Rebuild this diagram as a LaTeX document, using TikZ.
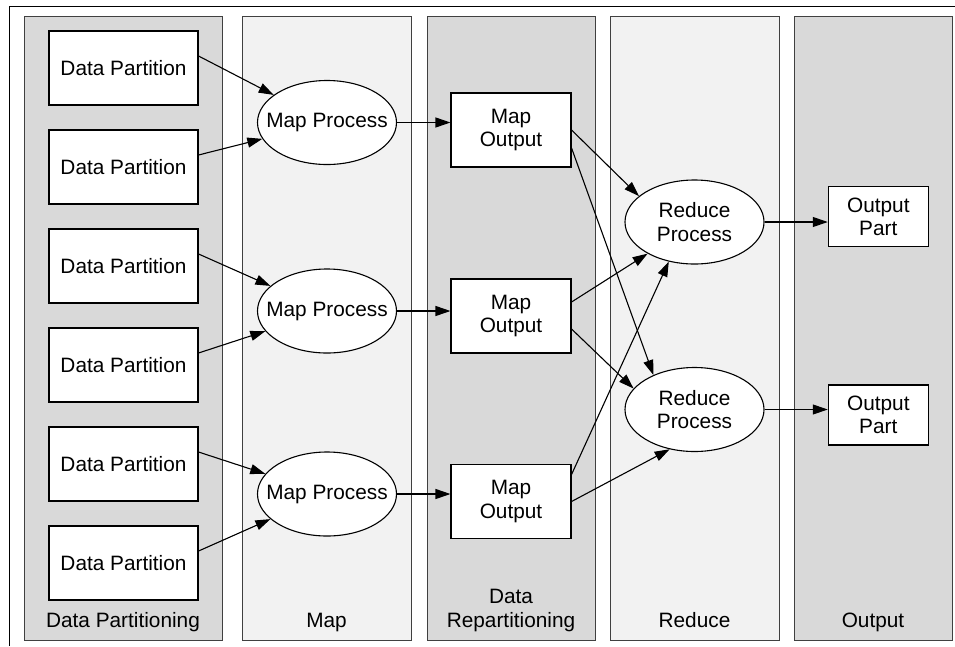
\documentclass[tikz,border=0pt]{standalone}
\usepackage{fontspec}
\setmainfont{Liberation Sans}
\usetikzlibrary{shapes.geometric,positioning,arrows.meta}

\begin{document}
\begin{tikzpicture}[x=1pt,y=-1pt,line width=1.1pt,node distance=99pt,
    >={Triangle[length=15pt,width=10pt]},
    every node/.style={font=\fontsize{20.8}{23.5}\selectfont},
    part/.style={draw,fill=white,minimum width=149pt,minimum height=74pt,inner sep=0pt,align=center},
    mout/.style={part,minimum width=120pt},
    opart/.style={part,minimum width=100pt,minimum height=60pt},
    proc/.style={ellipse,draw,fill=white,minimum width=139pt,minimum height=84pt,inner xsep=-12pt,inner ysep=0pt,align=center},
    lane/.style={draw=black!75,line width=1pt},
    lanelabel/.style={anchor=south,inner sep=0pt,text depth=0pt,align=center}]
  \useasboundingbox (0,0) rectangle (955,646);
  \draw[line width=1pt] (9,646) -- (9,6) -- (955,6);
  % lanes
  \draw[lane,fill=gray!30] (24,16) rectangle (222,640);
  \draw[lane,fill=gray!10] (242,16) rectangle (411,640);
  \draw[lane,fill=gray!30] (427,16) rectangle (595,640);
  \draw[lane,fill=gray!10] (610,16) rectangle (779,640);
  \draw[lane,fill=gray!30] (794,16) rectangle (952,640);
  \node (lblpart) [lanelabel] at (123,628) {Data Partitioning};
  \node (lblmap) [lanelabel] at (326.5,628) {Map};
  \node (lblrepart) [lanelabel] at (511,628) {Data\\Repartitioning};
  \node (lblred) [lanelabel] at (694.5,628) {Reduce};
  \node (lblout) [lanelabel] at (873,628) {Output};
  % input partitions
  \node (dp1) [part] at (123.5,68) {Data Partition};
  \node (dp2) [part,below of=dp1] {Data Partition};
  \node (dp3) [part,below of=dp2] {Data Partition};
  \node (dp4) [part,below of=dp3] {Data Partition};
  \node (dp5) [part,below of=dp4] {Data Partition};
  \node (dp6) [part,below of=dp5] {Data Partition};
  % map stage
  \node (mp1) [proc] at (327,122.5) {Map Process};
  \node (mp2) [proc] at (327,311) {Map Process};
  \node (mp3) [proc] at (327,494) {Map Process};
  \node (mo1) [mout] at (511,130) {Map\\Output};
  \node (mo2) [mout] at (511,316) {Map\\Output};
  \node (mo3) [mout] at (511,501.5) {Map\\Output};
  % reduce stage
  \node (rp1) [proc] at (694.5,222) {Reduce\\Process};
  \node (rp2) [proc] at (694.5,409.5) {Reduce\\Process};
  \node (op1) [opart] at (878.3,216.7) {Output\\Part};
  \node (op2) [opart] at (878.3,415) {Output\\Part};
  \foreach \d/\m in {dp1/mp1,dp2/mp1,dp3/mp2,dp4/mp2,dp5/mp3,dp6/mp3}
    \draw[->] ([yshift=12pt]\d.east) -- (\m);
  \foreach \m/\o in {mp1/mo1,mp2/mo2,mp3/mo3}
    \draw[->] (\m.east) -- (\m.east -| \o.west);
  \draw[->] (mo1.east) -- (rp1.155);
  \draw[->] ([yshift=-18pt]mo1.east) -- (rp2.140);
  \draw[->] ([yshift=14pt]mo2.east) -- (rp1.214);
  \draw[->] ([yshift=-13pt]mo2.east) -- (rp2.161);
  \draw[->] ([yshift=27pt]mo3.east) -- (rp1.237);
  \draw[->] (mo3.east) -- (rp2.238);
  \foreach \r/\o in {rp1/op1,rp2/op2}
    \draw[->] (\r.east) -- (\r.east -| \o.west);
\end{tikzpicture}
\end{document}
